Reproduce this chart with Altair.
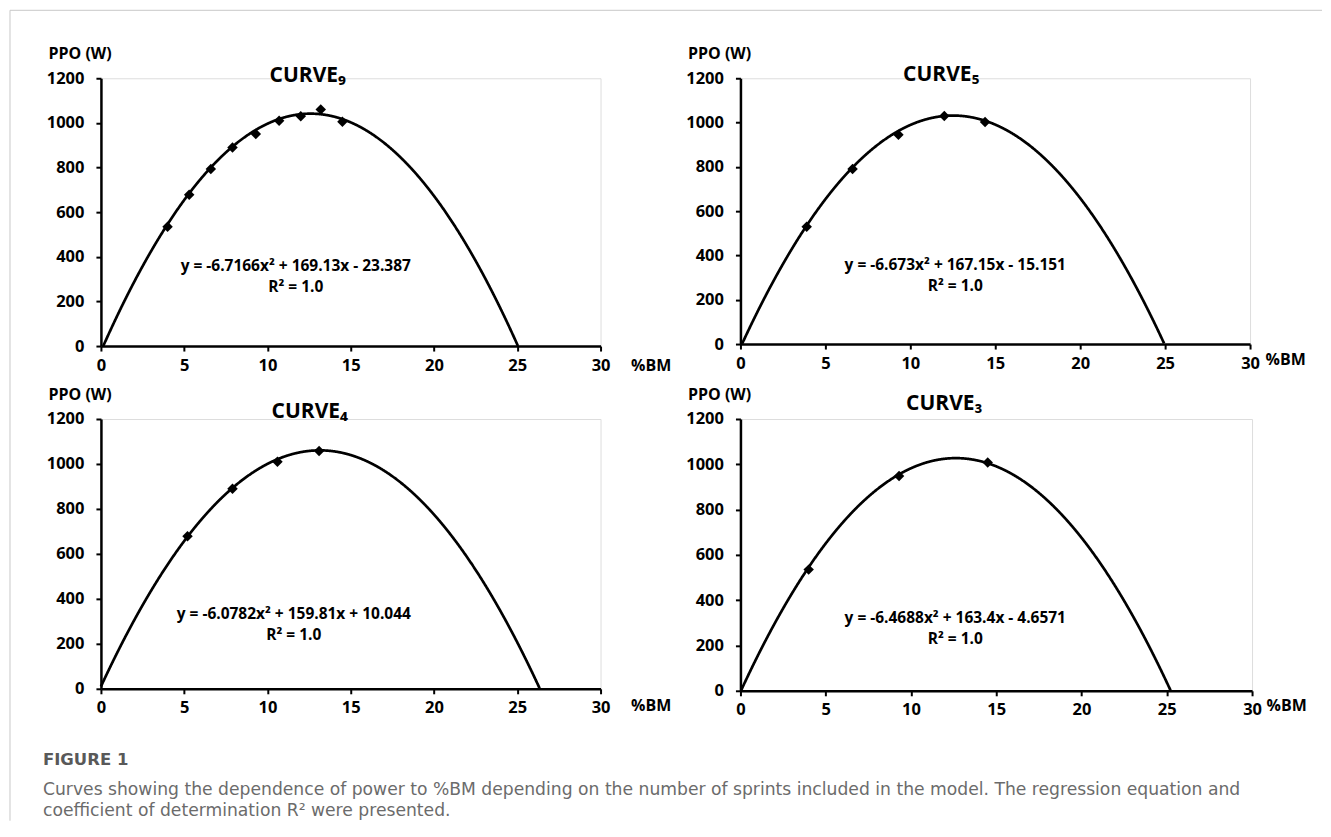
import altair as alt
import pandas as pd

# ---- data ----
curve_names = ["CURVE₉", "CURVE₅", "CURVE₄", "CURVE₃"]

x9 = [4.0, 5.3, 6.6, 7.9, 9.3, 10.7, 12.0, 13.2, 14.5]
y9 = [535, 678, 793, 890, 950, 1010, 1030, 1060, 1005]
x5 = [3.9, 6.6, 9.3, 12.0, 14.4]
y5 = [530, 790, 945, 1030, 1003]
x4 = [5.2, 7.9, 10.6, 13.1]
y4 = [678, 890, 1010, 1058]
x3 = [4.0, 9.3, 14.5]
y3 = [535, 948, 1008]

coef_a = [-6.7166, -6.673, -6.0782, -6.4688]
coef_b = [169.13, 167.15, 159.81, 163.4]
coef_c = [-23.387, -15.151, 10.044, -4.6571]

equations = [
    "y = -6.7166x² + 169.13x - 23.387",
    "y = -6.673x² + 167.15x - 15.151",
    "y = -6.0782x² + 159.81x + 10.044",
    "y = -6.4688x² + 163.4x - 4.6571",
]
r2_label = "R² = 1.0"

x_ticks = [0, 5, 10, 15, 20, 25, 30]
y_ticks = [0, 200, 400, 600, 800, 1000, 1200]

caption_head = "FIGURE 1"
caption_line1 = "Curves showing the dependence of power to %BM depending on the number of sprints included in the model. The regression equation and"
caption_line2 = "coefficient of determination R² were presented."

xs = [x9, x5, x4, x3]
ys = [y9, y5, y4, y3]

FONT = "Open Sans"
CAP_FONT = "DejaVu Sans"


def text_layer(t, x, y, font=FONT, **kw):
    return (
        alt.Chart(alt.Data(values=[{"t": t}]))
        .mark_text(font=font, align=kw.pop("align", "center"), baseline="middle", **kw)
        .encode(x=alt.value(x), y=alt.value(y), text="t:N")
    )


def panel(i, w, h, title_pos, eq_pos, xtitle_pos, extra=None):
    xaxis = alt.Axis(
        values=x_ticks, format="d", grid=False, title="%BM", titleAngle=0, titleAlign="left",
        titleBaseline="middle", titleX=w + xtitle_pos[0], titleY=xtitle_pos[1],
        labelFont=FONT, labelFontWeight="bold", labelFontSize=16.5, labelColor="black",
        titleFont=FONT, titleFontWeight="bold", titleFontSize=16, titleColor="black",
        domainColor="black", domainWidth=2.5, tickColor="black", tickWidth=2,
        tickSize=5, labelPadding=6, labelFlush=False,
    )
    yaxis = alt.Axis(
        values=y_ticks, format="d", grid=False, title="PPO (W)", titleAngle=0, titleAlign="left",
        titleBaseline="middle", titleX=-53, titleY=-25,
        labelFont=FONT, labelFontWeight="bold", labelFontSize=16.5, labelColor="black",
        titleFont=FONT, titleFontWeight="bold", titleFontSize=16, titleColor="black",
        domainColor="black", domainWidth=2.5, tickColor="black", tickWidth=2,
        tickSize=5, labelPadding=12, labelFlush=False,
    )
    xscale = alt.Scale(domain=[0, 30], nice=False)
    yscale = alt.Scale(domain=[0, 1200], nice=False)

    expr = f"({coef_a[i]})*datum.x*datum.x + ({coef_b[i]})*datum.x + ({coef_c[i]})"
    curve = (
        alt.Chart(alt.sequence(0, 27, 0.02, as_="x"))
        .transform_calculate(y=expr)
        .transform_filter("datum.y >= 0")
        .mark_line(color="black", strokeWidth=2.7)
        .encode(
            x=alt.X("x:Q", scale=xscale, axis=xaxis),
            y=alt.Y("y:Q", scale=yscale, axis=yaxis),
        )
    )
    pts = pd.DataFrame({"x": xs[i], "y": ys[i]})
    points = (
        alt.Chart(pts)
        .mark_point(shape="diamond", filled=True, color="black", size=110, opacity=1)
        .encode(x=alt.X("x:Q", scale=xscale), y=alt.Y("y:Q", scale=yscale))
    )
    title = text_layer(curve_names[i], title_pos[0], title_pos[1],
                       fontWeight="bold", fontSize=21, color="black")
    eq = text_layer(equations[i], eq_pos[0], eq_pos[1] - 1,
                    fontWeight="bold", fontSize=15.5, color="black")
    r2 = text_layer(r2_label, eq_pos[0], eq_pos[1] + 20,
                    fontWeight="bold", fontSize=15.5, color="black")
    layers = [curve, points, title, eq, r2]
    if extra:
        layers += extra
    return alt.layer(*layers).properties(width=w, height=h)


# page frame lines (thin grey border of the figure box)
frame_top = (
    alt.Chart(alt.Data(values=[{}]))
    .mark_rule(color="#c8c8c8", strokeWidth=1)
    .encode(x=alt.value(-91), x2=alt.value(1222), y=alt.value(-68))
)
frame_left = (
    alt.Chart(alt.Data(values=[{}]))
    .mark_rule(color="#c8c8c8", strokeWidth=1)
    .encode(x=alt.value(-91), y=alt.value(-68), y2=alt.value(743))
)

cap_head = text_layer(caption_head, -58, 341, font=CAP_FONT, align="left",
                      fontWeight="bold", fontSize=16.5, color="#595959")
cap_l1 = text_layer(caption_line1, -58, 371, font=CAP_FONT, align="left", fontSize=17.2, color="#6b6b6b")
cap_l2 = text_layer(caption_line2, -58, 392, font=CAP_FONT, align="left", fontSize=17.2, color="#6b6b6b")

p1 = panel(0, 500, 268, (207, -2), (195, 189), (30, 19), [frame_top, frame_left])
p2 = panel(1, 510, 266, (201, -3), (215, 188), (15, 15))
p3 = panel(2, 500, 270, (209, -7), (193, 196), (30, 17), [cap_head, cap_l1, cap_l2])
p4 = panel(3, 512, 272, (204, -15), (215, 200), (14, 15))

chart = (
    alt.concat(p1, p2, p3, p4, columns=2, spacing={"row": 73, "column": 140}, bounds="flush")
    .properties(padding={"left": 1, "top": 1, "right": 0, "bottom": 0})
    .configure_view(stroke=None)
    .configure(background="white")
)

chart.save("out.html", embed_options={"renderer": "svg", "actions": False})
